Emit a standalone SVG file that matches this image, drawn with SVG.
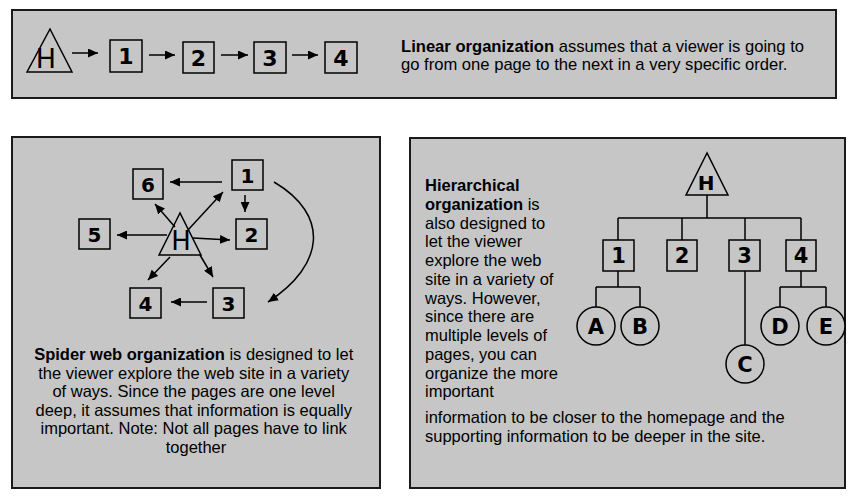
<svg xmlns="http://www.w3.org/2000/svg" width="850" height="502" viewBox="0 0 850 502">
<defs>
<marker id="ah" markerUnits="userSpaceOnUse" markerWidth="11" markerHeight="9" refX="10" refY="4.5" orient="auto">
<path d="M0,0 L10,4.5 L0,9 Z" fill="#000"/>
</marker>
</defs>
<style>
.panel{fill:#c6c6c6;stroke:#1a1a1a;stroke-width:2}
.box{fill:#c6c6c6;stroke:#000;stroke-width:1.5}
.tri{fill:#c6c6c6;stroke:#000;stroke-width:1.5}
.circ{fill:#c6c6c6;stroke:#000;stroke-width:1.5}
.lbl{font-family:"DejaVu Sans",sans-serif;font-weight:bold;fill:#000;text-anchor:middle}
.hl{font-family:"DejaVu Sans",sans-serif;fill:#000;text-anchor:middle}
.arr{stroke:#000;stroke-width:1.5;fill:none;marker-end:url(#ah)}
.ln{stroke:#000;stroke-width:1.5;fill:none}
.txt{font-family:"Liberation Sans",Arial,sans-serif;fill:#000}
</style>
<rect width="850" height="502" fill="#fff"/>

<!-- Panels -->
<rect id="panel-linear" class="panel" x="12" y="10" width="824" height="88"/>
<rect id="panel-spider" class="panel" x="12" y="137" width="368" height="351"/>
<rect id="panel-hier" class="panel" x="410" y="138" width="435" height="350"/>

<!-- Linear -->
<g id="lin-H"><polygon class="tri" points="50,29 27,72 72,72"/><text class="hl" x="46" y="68" font-size="27">H</text></g>
<g id="lin-1"><rect class="box" x="110" y="40" width="32" height="32"/><text class="lbl" x="126" y="64" font-size="22">1</text></g>
<g id="lin-2"><rect class="box" x="183" y="42" width="31" height="31"/><text class="lbl" x="198.5" y="66" font-size="22">2</text></g>
<g id="lin-3"><rect class="box" x="254" y="42" width="32" height="31"/><text class="lbl" x="270" y="66" font-size="22">3</text></g>
<g id="lin-4"><rect class="box" x="325" y="42" width="32" height="31"/><text class="lbl" x="341" y="66" font-size="22">4</text></g>
<g id="lin-connectors">
<line class="arr" x1="72" y1="53" x2="98" y2="53"/>
<line class="arr" x1="149" y1="55" x2="175" y2="55"/>
<line class="arr" x1="221" y1="55" x2="248" y2="55"/>
<line class="arr" x1="292" y1="55" x2="318" y2="55"/>
</g>
<text class="txt" font-size="16.6" x="401" y="52"><tspan font-weight="bold">Linear organization</tspan> assumes that a viewer is going to</text>
<text class="txt" font-size="16.6" x="401" y="70">go from one page to the next in a very specific order.</text>

<!-- Spider -->
<g id="sp-H"><polygon class="tri" points="180,213 159,255 201,255"/><text class="hl" x="181" y="250" font-size="26">H</text></g>
<g id="sp-1"><rect class="box" x="232" y="160" width="31" height="30"/><text class="lbl" x="247.5" y="183" font-size="20">1</text></g>
<g id="sp-2"><rect class="box" x="236" y="219" width="31" height="30"/><text class="lbl" x="251.5" y="242" font-size="20">2</text></g>
<g id="sp-3"><rect class="box" x="213" y="288" width="31" height="30"/><text class="lbl" x="228.5" y="311" font-size="20">3</text></g>
<g id="sp-4"><rect class="box" x="130" y="288" width="31" height="30"/><text class="lbl" x="145.5" y="311" font-size="20">4</text></g>
<g id="sp-5"><rect class="box" x="79" y="219" width="31" height="30"/><text class="lbl" x="94.5" y="242" font-size="20">5</text></g>
<g id="sp-6"><rect class="box" x="133" y="169" width="30" height="30"/><text class="lbl" x="148" y="192" font-size="20">6</text></g>
<g id="sp-connectors">
<line class="arr" x1="222" y1="182" x2="170" y2="182"/>
<line class="arr" x1="245" y1="195" x2="245" y2="212"/>
<line class="arr" x1="188" y1="230" x2="223" y2="192"/>
<line class="arr" x1="175" y1="227" x2="155" y2="204"/>
<line class="arr" x1="167" y1="235" x2="117" y2="235"/>
<line class="arr" x1="193" y1="238" x2="230" y2="240"/>
<line class="arr" x1="170" y1="257" x2="148" y2="280"/>
<line class="arr" x1="200" y1="255" x2="213" y2="277"/>
<line class="arr" x1="207" y1="302" x2="171" y2="302"/>
<path class="arr" d="M274,182 C330,215 325,265 268,302"/>
</g>
<text class="txt" font-size="16.5" text-anchor="middle">
<tspan x="196" y="360"><tspan font-weight="bold">Spider web organization</tspan> is designed to let</tspan>
<tspan x="196" y="378.5">the viewer explore the web site in a variety</tspan>
<tspan x="196" y="397">of ways. Since the pages are one level</tspan>
<tspan x="196" y="415.5">deep, it assumes that information is equally</tspan>
<tspan x="196" y="434">important. Note: Not all pages have to link</tspan>
<tspan x="196" y="452.5">together</tspan>
</text>

<!-- Hierarchical -->
<g id="hi-H"><polygon class="tri" points="707,153 686,195 728,195"/><text class="lbl" x="706" y="190" font-size="20">H</text></g>
<g id="hi-1"><rect class="box" x="603" y="240" width="31" height="31"/><text class="lbl" x="618.5" y="263" font-size="21">1</text></g>
<g id="hi-2"><rect class="box" x="667" y="240" width="30" height="31"/><text class="lbl" x="682" y="263" font-size="21">2</text></g>
<g id="hi-3"><rect class="box" x="729" y="240" width="31" height="31"/><text class="lbl" x="744.5" y="263" font-size="21">3</text></g>
<g id="hi-4"><rect class="box" x="786" y="240" width="30" height="31"/><text class="lbl" x="801" y="263" font-size="21">4</text></g>
<g id="hi-A"><circle class="circ" cx="596" cy="326" r="19"/><text class="lbl" x="596" y="334" font-size="21">A</text></g>
<g id="hi-B"><circle class="circ" cx="640" cy="326" r="19"/><text class="lbl" x="640" y="334" font-size="21">B</text></g>
<g id="hi-C"><circle class="circ" cx="745" cy="364" r="19"/><text class="lbl" x="745" y="372" font-size="21">C</text></g>
<g id="hi-D"><circle class="circ" cx="780" cy="326" r="19"/><text class="lbl" x="780" y="334" font-size="21">D</text></g>
<g id="hi-E"><circle class="circ" cx="826" cy="326" r="19"/><text class="lbl" x="826" y="334" font-size="21">E</text></g>
<g id="hi-connectors">
<path class="ln" d="M707,195 V218 M618,218 H801 M618,218 V240 M682,218 V240 M745,218 V240 M801,218 V240"/>
<path class="ln" d="M618,271 V287 M596,287 H640 M596,287 V307 M640,287 V307"/>
<path class="ln" d="M745,271 V345"/>
<path class="ln" d="M801,271 V287 M780,287 H826 M780,287 V307 M826,287 V307"/>
</g>
<text class="txt" font-size="16.5">
<tspan x="425" y="191" font-weight="bold">Hierarchical</tspan>
<tspan x="425" y="209.75"><tspan font-weight="bold">organization</tspan> is</tspan>
<tspan x="425" y="228.5">also designed to</tspan>
<tspan x="425" y="247.25">let the viewer</tspan>
<tspan x="425" y="266">explore the web</tspan>
<tspan x="425" y="284.75">site in a variety of</tspan>
<tspan x="425" y="303.5">ways. However,</tspan>
<tspan x="425" y="322.25">since there are</tspan>
<tspan x="425" y="341">multiple levels of</tspan>
<tspan x="425" y="359.75">pages, you can</tspan>
<tspan x="425" y="378.5">organize the more</tspan>
<tspan x="425" y="397.25">important</tspan>
<tspan x="425" y="423">information to be closer to the homepage and the</tspan>
<tspan x="425" y="442">supporting information to be deeper in the site.</tspan>
</text>
</svg>
